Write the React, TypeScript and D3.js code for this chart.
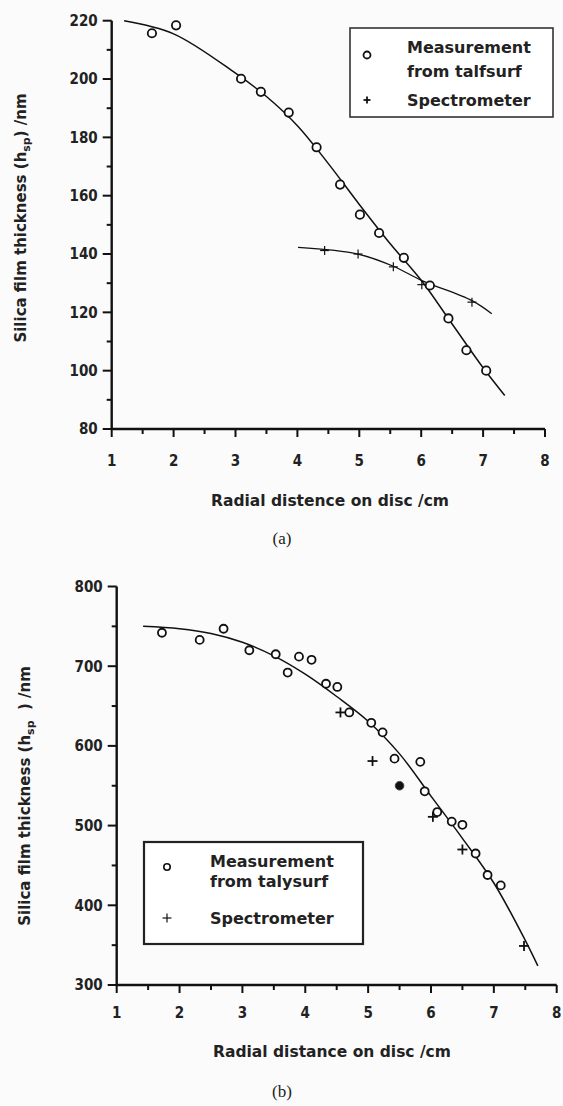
import React, { useEffect } from 'react';
import * as d3 from 'd3';

// ---- panel (a) ----
const xTicks = [1, 2, 3, 4, 5, 6, 7, 8];
const xMinor = [1.5, 2.5, 3.5, 4.5, 5.5, 6.5, 7.5];

const aYTicks = [80, 100, 120, 140, 160, 180, 200, 220];
const aYMinor = [90, 110, 130, 150, 170, 190, 210];

const aTalyX = [1.65, 2.04, 3.09, 3.41, 3.86, 4.31, 4.69, 5.01, 5.32, 5.72, 6.14, 6.44, 6.73, 7.05];
const aTalyY = [215.7, 218.4, 200.1, 195.6, 188.5, 176.6, 163.8, 153.5, 147.2, 138.7, 129.2, 117.9, 107, 100];

const aSpecX = [4.44, 4.98, 5.55, 6.01, 6.82];
const aSpecY = [141.2, 140.0, 135.6, 129.5, 123.5];

const aFitX = [1.2, 2, 3, 3.5, 4, 4.5, 5, 5.5, 6, 6.5, 7, 7.35];
const aFitY = [220, 215.5, 202, 194, 184, 171, 157, 143.5, 131, 116, 101, 91.5];

const aSpecFitX = [4.01, 4.98, 5.55, 6.01, 6.82, 7.14];
const aSpecFitY = [142.3, 140.0, 135.8, 130.9, 124.0, 119.5];

// ---- panel (b) ----
const bYTicks = [300, 400, 500, 600, 700, 800];
const bYMinor = [350, 450, 550, 650, 750];

const bTalyX = [1.72, 2.32, 2.70, 3.11, 3.53, 3.72, 3.90, 4.10, 4.33, 4.51, 4.70, 5.05, 5.23, 5.42, 5.83, 5.90, 6.10, 6.33, 6.50, 6.71, 6.90, 7.11];
const bTalyY = [742, 733, 747, 720, 715, 692, 712, 708, 678, 674, 642, 629, 617, 584, 580, 543, 517, 505, 501, 465, 438, 425];

const bFilledX = [5.5];
const bFilledY = [550];

const bSpecX = [4.56, 5.07, 6.03, 6.50, 7.48];
const bSpecY = [642, 581, 511, 470, 349];

const bFitX = [1.42, 2, 2.5, 3, 3.5, 4, 4.5, 5, 5.5, 6, 6.5, 7, 7.5, 7.7];
const bFitY = [750, 747, 741, 730, 713, 690, 662, 631, 590, 537, 484, 428, 356, 324];

const FONT = '"DejaVu Sans", Verdana, sans-serif';
const COND = '"DejaVu Sans Condensed", "DejaVu Sans", sans-serif';
const SERIF = '"Liberation Serif", "Times New Roman", serif';

const zip = (xs: number[], ys: number[]) => xs.map((x, i) => [x, ys[i]] as [number, number]);

function Plus({ x, y, s = 4.5, w = 1.4 }: { x: number; y: number; s?: number; w?: number }) {
  return (
    <g stroke="#111" strokeWidth={w}>
      <line x1={x - s} x2={x + s} y1={y} y2={y} />
      <line x1={x} x2={x} y1={y - s} y2={y + s} />
    </g>
  );
}

function Axes({ x, y, yTicks, yMinor, labelY }: any) {
  const [x0, x1] = x.range();
  const [yb, yt] = y.range();
  return (
    <g fontFamily={COND} fontWeight={700} fill="#222" style={{ fontStretch: 'condensed' }}>
      <path d={`M${x0},${yt} V${yb} H${x1}`} fill="none" stroke="#111" strokeWidth={2.4} />
      {yTicks.map((t: number) => (
        <g key={'y' + t}>
          <line x1={x0 - 9} x2={x0} y1={y(t)} y2={y(t)} stroke="#111" strokeWidth={2} />
          <text x={x0 - 14} y={y(t)} dy="0.36em" textAnchor="end" fontSize={15}>{t}</text>
        </g>
      ))}
      {yMinor.map((t: number) => (
        <line key={'ym' + t} x1={x0 - 5} x2={x0} y1={y(t)} y2={y(t)} stroke="#111" strokeWidth={2} />
      ))}
      {xTicks.map((t) => (
        <g key={'x' + t}>
          <line x1={x(t)} x2={x(t)} y1={yb} y2={yb + 8} stroke="#111" strokeWidth={2} />
          <text x={x(t)} y={labelY} dy="0.36em" textAnchor="middle" fontSize={15}>{t}</text>
        </g>
      ))}
      {xMinor.map((t) => (
        <line key={'xm' + t} x1={x(t)} x2={x(t)} y1={yb} y2={yb + 5} stroke="#111" strokeWidth={2} />
      ))}
    </g>
  );
}

function PanelA() {
  const x = d3.scaleLinear().domain([1, 8]).range([111.7, 545]);
  const y = d3.scaleLinear().domain([80, 220]).range([429, 20.7]);
  const line = d3.line<[number, number]>().x((d) => x(d[0])).y((d) => y(d[1])).curve(d3.curveCatmullRom);
  return (
    <g>
      <Axes x={x} y={y} yTicks={aYTicks} yMinor={aYMinor} labelY={461} />
      <path d={line(zip(aFitX, aFitY)) || ''} fill="none" stroke="#111" strokeWidth={1.5} />
      <path d={line(zip(aSpecFitX, aSpecFitY)) || ''} fill="none" stroke="#111" strokeWidth={1.3} />
      {zip(aTalyX, aTalyY).map((d, i) => (
        <circle key={i} cx={x(d[0])} cy={y(d[1])} r={4.2} fill="#fff" stroke="#111" strokeWidth={1.8} />
      ))}
      {zip(aSpecX, aSpecY).map((d, i) => (
        <Plus key={i} x={x(d[0])} y={y(d[1])} s={4.5} w={1.2} />
      ))}
      <g fontFamily={FONT} fontWeight={700} fill="#222" fontSize={16}>
        <text transform="translate(26,218) rotate(-90)" textAnchor="middle" fontSize={15}>
          Silica film thickness (h<tspan fontSize={11} dy={4}>sp</tspan><tspan dy={-4}>) /nm</tspan>
        </text>
        <text x={330} y={500} dy="0.36em" textAnchor="middle" fontSize={15.5}>Radial distence on disc /cm</text>
        <rect x={350} y={28} width={203} height={89} fill="#fff" stroke="#333" strokeWidth={1.6} />
        <circle cx={367} cy={55} r={3.5} fill="#fff" stroke="#111" strokeWidth={1.8} />
        <Plus x={367} y={100} s={3.5} w={1.8} />
        <text x={407} y={47} dy="0.36em">Measurement</text>
        <text x={407} y={71} dy="0.36em">from talfsurf</text>
        <text x={407} y={100} dy="0.36em">Spectrometer</text>
      </g>
      <text x={282} y={538} dy="0.36em" textAnchor="middle" fontFamily={SERIF} fontSize={17} fill="#222">(a)</text>
    </g>
  );
}

function PanelB() {
  const x = d3.scaleLinear().domain([1, 8]).range([116.7, 556.7]);
  const y = d3.scaleLinear().domain([300, 800]).range([985, 586.5]);
  const line = d3.line<[number, number]>().x((d) => x(d[0])).y((d) => y(d[1])).curve(d3.curveCatmullRom);
  return (
    <g>
      <Axes x={x} y={y} yTicks={bYTicks} yMinor={bYMinor} labelY={1013} />
      <path d={line(zip(bFitX, bFitY)) || ''} fill="none" stroke="#111" strokeWidth={1.5} />
      {zip(bTalyX, bTalyY).map((d, i) => (
        <circle key={i} cx={x(d[0])} cy={y(d[1])} r={4} fill="#fff" stroke="#111" strokeWidth={1.8} />
      ))}
      {zip(bFilledX, bFilledY).map((d, i) => (
        <circle key={i} cx={x(d[0])} cy={y(d[1])} r={4.3} fill="#111" stroke="#444" strokeWidth={1} />
      ))}
      {zip(bSpecX, bSpecY).map((d, i) => (
        <Plus key={i} x={x(d[0])} y={y(d[1])} s={5} w={1.8} />
      ))}
      <g fontFamily={FONT} fontWeight={700} fill="#222" fontSize={16}>
        <text transform="translate(30,796) rotate(-90)" textAnchor="middle" fontSize={15} style={{ whiteSpace: 'pre' }}>
          Silica film thickness (h<tspan fontSize={11} dy={4}>sp</tspan><tspan dy={-4}>{'\u00a0\u00a0) /nm'}</tspan>
        </text>
        <text x={332} y={1051} dy="0.36em" textAnchor="middle" fontSize={15.5}>Radial distance on disc /cm</text>
        <rect x={144} y={842} width={219} height={102} fill="#fff" stroke="#222" strokeWidth={2.2} />
        <circle cx={167} cy={867} r={3.2} fill="#fff" stroke="#111" strokeWidth={1.6} />
        <Plus x={167} y={918} s={4.5} w={1.2} />
        <text x={210} y={861} dy="0.36em">Measurement</text>
        <text x={210} y={881} dy="0.36em">from talysurf</text>
        <text x={210} y={918} dy="0.36em">Spectrometer</text>
      </g>
      <text x={282} y={1091} dy="0.36em" textAnchor="middle" fontFamily={SERIF} fontSize={17} fill="#222">(b)</text>
    </g>
  );
}

export default function App() {
  useEffect(() => {
    document.body.style.margin = '0';
  }, []);
  return (
    <svg width={563} height={1106} style={{ display: 'block', background: '#fbfbfb' }}>
      <PanelA />
      <PanelB />
    </svg>
  );
}
